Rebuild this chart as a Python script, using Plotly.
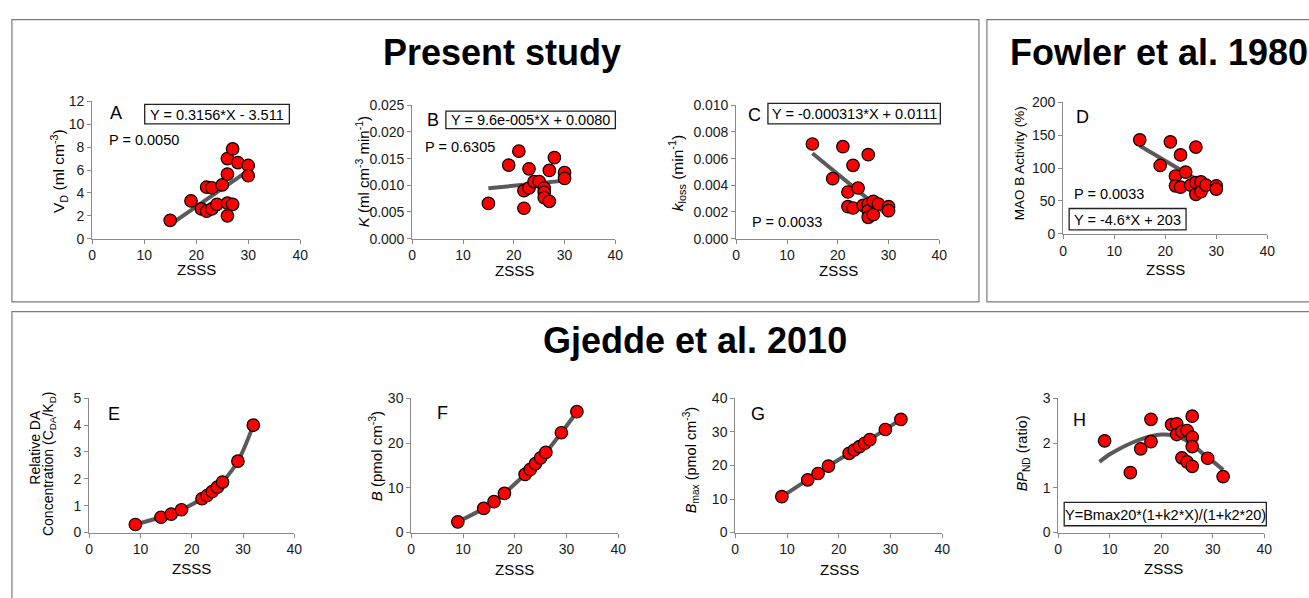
import plotly.graph_objects as go

W, H = 1309, 598

# ---------------- data ----------------
zsss_ticks = [0, 10, 20, 30, 40]

a_x = [15, 19, 21, 22, 22, 23, 23, 24, 25, 26, 26, 26, 26, 27, 27, 28, 30, 30]
a_y = [1.6, 3.3, 2.6, 4.5, 2.4, 4.45, 2.6, 3.0, 4.7, 5.65, 7.0, 3.1, 2.0, 7.85, 3.0, 6.65, 6.4, 5.5]
a_fit = (0.3156, -3.511)

b_x = [15, 19, 21, 22, 22, 23, 23, 24, 25, 26, 26, 26, 27, 27, 28, 30, 30]
b_y = [0.0066, 0.0138, 0.0164, 0.0090, 0.0057, 0.0131, 0.0095, 0.0107, 0.0107,
       0.0095, 0.0087, 0.0077, 0.0128, 0.0070, 0.0152, 0.0124, 0.0113]
b_fit = (9.6e-5, 0.0080)

c_x = [15, 19, 21, 22, 22, 23, 23, 24, 25, 26, 26, 26, 26, 27, 27, 28, 30, 30]
c_y = [0.0071, 0.0045, 0.0069, 0.0035, 0.0024, 0.0055, 0.0023, 0.0038, 0.0025,
       0.0063, 0.0026, 0.0021, 0.0016, 0.0028, 0.0018, 0.0026, 0.0024, 0.0021]
c_fit = (-0.000313, 0.0111)

d_x = [15, 19, 21, 22, 22, 23, 23, 24, 25, 26, 26, 26, 27, 27, 28, 30, 30]
d_y = [143, 104, 140, 88, 73, 120, 71, 94, 74, 132, 78, 60, 79, 64, 74, 73, 68]
d_fit = (-4.6, 203)
fit_x_range = [15, 30]

efg_x = [9, 14, 16, 18, 22, 23, 24, 25, 26, 29, 32]
e_y = [0.3, 0.57, 0.69, 0.85, 1.26, 1.38, 1.53, 1.69, 1.88, 2.66, 4.0]
f_y = [2.4, 5.4, 6.9, 8.75, 13.0, 14.1, 15.4, 16.7, 17.9, 22.3, 27.0]
g_y = [10.7, 15.7, 17.6, 19.8, 23.6, 24.6, 25.6, 26.6, 27.7, 30.7, 33.7]

h_x = [9, 14, 16, 18, 18, 22, 23, 23, 24, 24, 25, 25, 26, 26, 26, 26, 29, 32]
h_y = [2.05, 1.34, 1.87, 2.53, 2.03, 2.41, 2.43, 2.19, 2.26, 1.67, 2.28, 1.58,
       2.6, 2.13, 1.92, 1.48, 1.66, 1.25]
h_curve_x = [8, 10, 12, 14, 16, 18, 20, 22, 24, 26, 28, 30, 32]
h_curve_y = [1.58, 1.75, 1.88, 1.99, 2.08, 2.15, 2.19, 2.18, 2.11, 1.97, 1.77, 1.59, 1.40]

# ---------------- style ----------------
FONT = "Liberation Sans, Arial, Helvetica, sans-serif"
AXC = "#8a8a8a"
TXT = "#1a1a1a"
RED = "#ff0000"
LINEC = "#5a5a5a"


def px(x):
    return x / W


def py(y):
    return 1 - y / H


fig = go.Figure()

panels = [
    dict(dom=(89, 299, 96, 237), yr=[0, 12], yt=[0, 2, 4, 6, 8, 10, 12], fmt=None),
    dict(dom=(412, 617, 100, 237), yr=[0, 0.025], yt=[0, 0.005, 0.01, 0.015, 0.02, 0.025], fmt=".3f"),
    dict(dom=(739, 944, 100, 237), yr=[0, 0.010], yt=[0, 0.002, 0.004, 0.006, 0.008, 0.010], fmt=".3f"),
    dict(dom=(1069, 1275, 97, 232), yr=[0, 200], yt=[0, 50, 100, 150, 200], fmt=None),
    dict(dom=(86, 293, 401, 539), yr=[0, 5], yt=[0, 1, 2, 3, 4, 5], fmt=None),
    dict(dom=(411, 620, 401, 539), yr=[0, 30], yt=[0, 10, 20, 30], fmt=None),
    dict(dom=(738, 947, 401, 539), yr=[0, 40], yt=[0, 10, 20, 30, 40], fmt=None),
    dict(dom=(1064, 1272, 401, 539), yr=[0, 3], yt=[0, 1, 2, 3], fmt=None),
]

layout_axes = {}
for i, p in enumerate(panels):
    n = "" if i == 0 else str(i + 1)
    x0, x1, yt, yb = p["dom"]
    common = dict(showgrid=False, zeroline=False, showline=True, linecolor=AXC, linewidth=1,
                  ticks="outside", ticklen=4, tickcolor=AXC, tickwidth=1,
                  tickfont=dict(family=FONT, size=14, color=TXT), fixedrange=True)
    layout_axes["xaxis" + n] = dict(domain=[px(x0), px(x1)], range=[0, 40], tickvals=zsss_ticks,
                                    anchor="y" + n, **common)
    yax = dict(domain=[py(yb), py(yt)], range=p["yr"], tickvals=p["yt"], anchor="x" + n, **common)
    if p["fmt"]:
        yax["tickformat"] = p["fmt"]
    layout_axes["yaxis" + n] = yax


def ax(i):
    n = "" if i == 0 else str(i + 1)
    return "x" + n, "y" + n


marker = dict(color=RED, size=12.5, line=dict(color="#000000", width=1.2))

scatter_sets = [(a_x, a_y, a_fit), (b_x, b_y, b_fit), (c_x, c_y, c_fit), (d_x, d_y, d_fit)]
for i, (xs, ys, fit) in enumerate(scatter_sets):
    xa, ya = ax(i)
    fy = [fit[0] * v + fit[1] for v in fit_x_range]
    fig.add_trace(go.Scatter(x=fit_x_range, y=fy, mode="lines", xaxis=xa, yaxis=ya,
                             line=dict(color=LINEC, width=4), showlegend=False, hoverinfo="skip"))
    fig.add_trace(go.Scatter(x=xs, y=ys, mode="markers", xaxis=xa, yaxis=ya, marker=marker,
                             showlegend=False, cliponaxis=False))

for i, ys in zip([4, 5, 6], [e_y, f_y, g_y]):
    xa, ya = ax(i)
    fig.add_trace(go.Scatter(x=efg_x, y=ys, mode="lines+markers", xaxis=xa, yaxis=ya,
                             line=dict(color=LINEC, width=4, shape="spline"), marker=marker,
                             showlegend=False, cliponaxis=False))

xa, ya = ax(7)
fig.add_trace(go.Scatter(x=h_curve_x, y=h_curve_y, mode="lines", xaxis=xa, yaxis=ya,
                         line=dict(color=LINEC, width=4, shape="spline"), showlegend=False,
                         hoverinfo="skip"))
fig.add_trace(go.Scatter(x=h_x, y=h_y, mode="markers", xaxis=xa, yaxis=ya, marker=marker,
                         showlegend=False, cliponaxis=False))

# ---------------- annotations ----------------
ann = []


def text(x, y, s, size=14, angle=0, xanchor="center", bold=False):
    ann.append(dict(x=px(x), y=py(y), xref="paper", yref="paper",
                    text=("<b>%s</b>" % s) if bold else s,
                    showarrow=False, xanchor=xanchor, yanchor="middle", textangle=angle,
                    font=dict(family=FONT, size=size, color="#000000")))


# section titles
text(503, 46, "Present study", size=36, bold=True)
text(1013, 46, "Fowler et al. 1980", size=36, xanchor="left", bold=True)
text(697, 342, "Gjedde et al. 2010", size=36, bold=True)

# panel letters
for (lx, ly, s) in [(113, 108, "A"), (433, 115, "B"), (757, 110, "C"), (1088, 112, "D"),
                    (111, 417, "E"), (443, 416, "F"), (761, 417, "G"), (1085, 423, "H")]:
    text(lx, ly, s, size=18)

# P values
text(104, 136, "P = 0.0050", size=14.5, xanchor="left")
text(423, 143, "P = 0.6305", size=14.5, xanchor="left")
text(753, 220, "P = 0.0033", size=14.5, xanchor="left")
text(1078, 191, "P = 0.0033", size=14.5, xanchor="left")

# equation boxes
eq_boxes = [
    ((142, 288, 99, 119), "Y = 0.3156*X - 3.511"),
    ((446, 617, 106, 124), "Y = 9.6e-005*X + 0.0080"),
    ((771, 945, 98, 119), "Y = -0.000313*X + 0.0111"),
    ((1075, 1193, 206, 228), "Y = -4.6*X + 203"),
    ((1070, 1274, 508, 532), "Y=Bmax20*(1+k2*X)/(1+k2*20)"),
]
shapes = []
for (x0, x1, y0, y1), s in eq_boxes:
    shapes.append(dict(type="rect", xref="paper", yref="paper", x0=px(x0), x1=px(x1),
                       y0=py(y1), y1=py(y0), line=dict(color="#222222", width=1.3)))
    text((x0 + x1) / 2, (y0 + y1) / 2 + 0.5, s, size=14.5)

# x-axis titles
for (x, y) in [(194, 269), (515, 270), (842, 270), (1172, 269),
               (189, 576), (515, 577), (843, 577), (1170, 576)]:
    text(x, y, "ZSSS", size=15)

# y-axis titles
text(55, 167, "V<sub>D</sub> (ml cm<sup>-3</sup>)", size=15.5, angle=-90)
text(362, 168, "<i>K</i> (ml cm<sup>-3</sup> min<sup>-1</sup>)", size=15, angle=-90)
text(680, 170, "<i>k</i><sub>loss</sub> (min<sup>-1</sup>)", size=15.5, angle=-90)
text(1025, 160, "MAO B Activity (%)", size=13.5, angle=-90)
text(31, 451, "Relative DA", size=14, angle=-90)
text(46, 469, "Concentration (C<sub>DA</sub>/K<sub>D</sub>)", size=14, angle=-90)
text(375, 461, "<i>B</i> (pmol cm<sup>-3</sup>)", size=15, angle=-90)
text(693, 465, "<i>B</i><sub>max</sub> (pmol cm<sup>-3</sup>)", size=14.5, angle=-90)
text(1028, 458, "<i>BP</i><sub>ND</sub> (ratio)", size=14.5, angle=-90)

# section frames (right / bottom edges run off the page)
for (x0, x1, y0, y1) in [(8, 984, 12, 302), (992, 1330, 12, 302), (8, 1330, 312, 620)]:
    shapes.append(dict(type="rect", xref="paper", yref="paper", x0=px(x0), x1=px(x1),
                       y0=py(y1), y1=py(y0), line=dict(color="#7a7a7a", width=1.2)))

fig.update_layout(width=W, height=H, margin=dict(l=0, r=0, t=0, b=0),
                  paper_bgcolor="white", plot_bgcolor="white", showlegend=False,
                  annotations=ann, shapes=shapes, font=dict(family=FONT), **layout_axes)

fig.write_html("out.html", config={"displayModeBar": False})
